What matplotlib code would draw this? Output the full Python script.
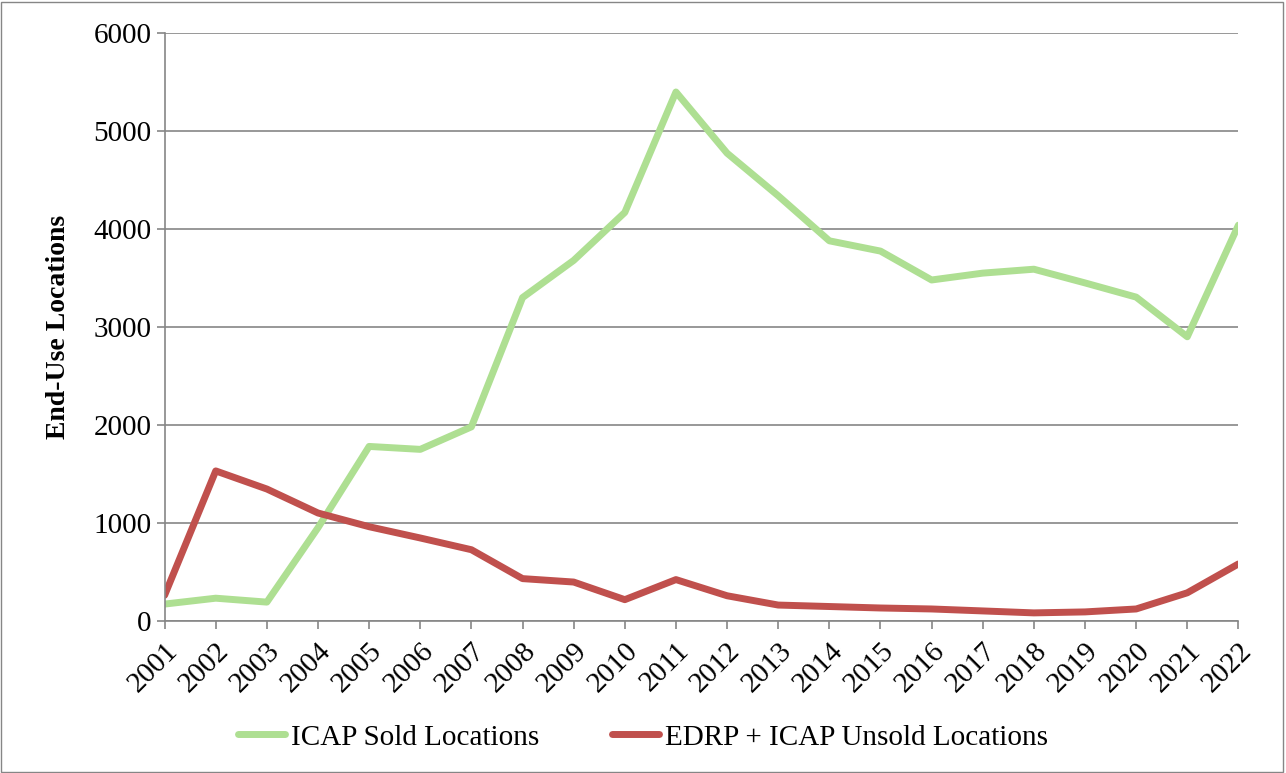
import matplotlib.pyplot as plt
from matplotlib.patches import Rectangle

years = [str(y) for y in range(2001, 2023)]
icap_sold = [170, 230, 190, 950, 1780, 1750, 1980, 3300, 3680, 4170, 5400,
             4775, 4340, 3880, 3775, 3480, 3550, 3590, 3450, 3305, 2900, 4040]
edrp_unsold = [260, 1530, 1345, 1100, 960, 845, 725, 430, 395, 215, 420,
               255, 160, 145, 130, 120, 100, 80, 90, 120, 285, 580]

plt.rcParams['font.family'] = ['Liberation Serif', 'DejaVu Serif']

fig = plt.figure(figsize=(12.86, 7.73), dpi=100)
ax = fig.add_axes([0.128, 0.197, 0.835, 0.760])

x = list(range(len(years)))
ax.plot(x, icap_sold, color='#AEDF92', lw=5, label='ICAP Sold Locations',
        solid_joinstyle='round', solid_capstyle='round')
ax.plot(x, edrp_unsold, color='#C0504D', lw=5, label='EDRP + ICAP Unsold Locations',
        solid_joinstyle='round', solid_capstyle='round')

ax.set_xlim(0, len(years) - 1)
ax.set_ylim(0, 6000)
ax.set_yticks(range(0, 6001, 1000))
ax.set_xticks(x)
ax.set_xticklabels(years, rotation=45, ha='right', rotation_mode='anchor')
ax.tick_params(axis='both', labelsize=21, color='#868686', length=6, width=1.2)
ax.tick_params(axis='x', pad=6)
ax.grid(axis='y', color='#868686', lw=1.2)
ax.set_axisbelow(True)
for s in ['top', 'right']:
    ax.spines[s].set_visible(False)
for s in ['left', 'bottom']:
    ax.spines[s].set_color('#868686')
    ax.spines[s].set_linewidth(1.2)

ax.set_ylabel('End-Use Locations', fontsize=20, fontweight='bold', labelpad=16)

fig.legend(loc='center', bbox_to_anchor=(0.5, 0.046), ncol=2, frameon=False,
           fontsize=21, handlelength=1.6, handletextpad=0.2, columnspacing=2.5)

fig.patches.append(Rectangle((0.001, 0.001), 0.997, 0.997, transform=fig.transFigure,
                             fill=False, edgecolor='#868686', lw=1))

fig.savefig('out.png', dpi=100)
